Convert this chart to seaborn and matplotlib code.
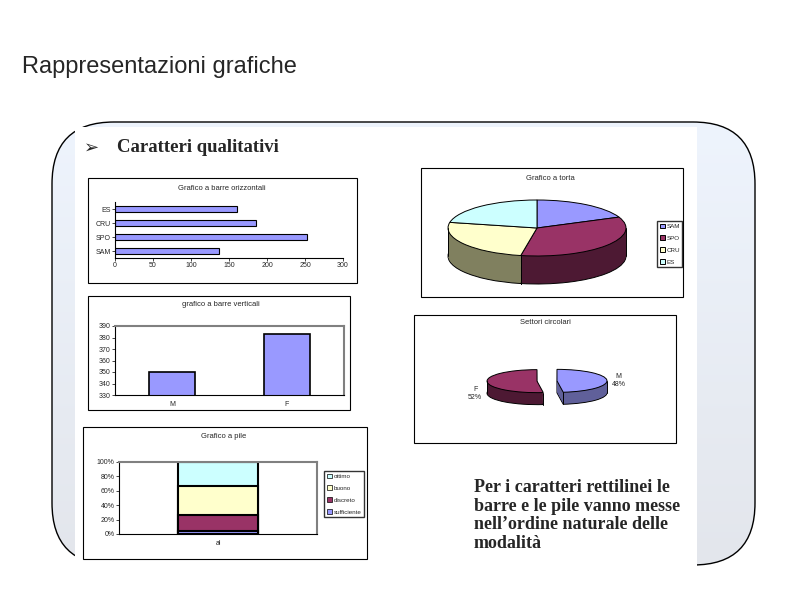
import numpy as np
import seaborn as sns
import matplotlib.pyplot as plt
from matplotlib.patches import FancyBboxPatch, Rectangle, Patch
from matplotlib.colors import LinearSegmentedColormap

sns.set_style('white')
plt.rcParams['font.family'] = ['Liberation Sans', 'DejaVu Sans']

W, H = 794, 595

# --- data ---
hbar_cats = ['SAM', 'SPO', 'CRU', 'ES']
hbar_vals = [137, 252, 186, 160]

vbar_cats = ['M', 'F']
vbar_vals = [350, 383]

pile_cat = ['al']
pile_levels = ['sufficiente', 'discreto', 'buono', 'ottimo']
pile_pct = [4, 23, 39, 34]
pile_colours = ['#9999FF', '#993366', '#FFFFCC', '#CCFFFF']

torta_cats = ['SAM', 'SPO', 'CRU', 'ES']
torta_vals = [137, 252, 186, 160]
torta_top = ['#9999FF', '#993366', '#FFFFCC', '#CCFFFF']
torta_side = ['#5C5C99', '#4D1933', '#80805F', '#668080']

settori_cats = ['M', 'F']
settori_pct = [48, 52]
settori_top = ['#9999FF', '#993366']
settori_side = ['#60609A', '#4D1933']

bar_colour = '#9999FF'


def px_axes(x0, y0, x1, y1):
    # axes placed by slide pixel box (y measured from the top)
    return fig.add_axes([x0 / W, 1 - y1 / H, (x1 - x0) / W, (y1 - y0) / H])


def excel_spines(ax, grey_box=False):
    for s in ['left', 'bottom']:
        ax.spines[s].set_color('black')
        ax.spines[s].set_linewidth(0.8)
    for s in ['top', 'right']:
        if grey_box:
            ax.spines[s].set_color('#808080')
            ax.spines[s].set_linewidth(1.5)
        else:
            ax.spines[s].set_visible(False)
    ax.tick_params(labelsize=5, length=2, width=0.6, pad=1, bottom=True, left=True)
    ax.set_xlabel('')
    ax.set_ylabel('')


def pie_3d(ax, vals, top, side, depth, explode=None, labels=None, n=24):
    # stacked copies of the pie give the extruded side
    for k, d in enumerate(np.linspace(depth, 0, n, endpoint=False)):
        ax.pie(vals, colors=side, startangle=90, counterclock=False,
               center=(0, -d), explode=explode,
               wedgeprops=dict(edgecolor='black' if k == 0 else 'none', linewidth=0.7))
    res = ax.pie(vals, colors=top, startangle=90, counterclock=False,
                 explode=explode, labels=labels, labeldistance=1.1,
                 textprops=dict(fontsize=5, multialignment='center'),
                 wedgeprops=dict(edgecolor='black', linewidth=0.7))
    wedges = res[0]
    for w in wedges:
        x0, y0 = w.center
        angles = [w.theta1, w.theta2]
        angles += [k * 180 for k in range(-3, 3) if w.theta1 < k * 180 < w.theta2]
        for a in angles:
            if np.sin(np.radians(a)) <= 1e-6:
                xa = x0 + np.cos(np.radians(a))
                ya = y0 + np.sin(np.radians(a))
                ax.plot([xa, xa], [ya, ya - depth], color='black', lw=0.7)
    ax.set_aspect('auto')
    ax.axis('off')
    return res


fig = plt.figure(figsize=(W / 100, H / 100), dpi=100)

# --- slide background ---
bg = fig.add_axes([0, 0, 1, 1])
frame = FancyBboxPatch((52, 122), 703, 443, boxstyle='round,pad=0,rounding_size=62',
                       facecolor='none', edgecolor='black', linewidth=1, zorder=2)
clip = FancyBboxPatch((52, 122), 703, 443, boxstyle='round,pad=0,rounding_size=62',
                      facecolor='none', edgecolor='none', transform=bg.transData)
grad_cmap = LinearSegmentedColormap.from_list('slide', ['#EEF4FD', '#E3E6EC'])
img = bg.imshow(np.linspace(0, 1, 256).reshape(-1, 1), cmap=grad_cmap, aspect='auto',
                extent=(52, 755, 565, 122), origin='upper', zorder=1)
bg.add_patch(clip)
img.set_clip_path(clip)
bg.add_patch(frame)
bg.add_patch(Rectangle((75, 127), 622, 442, facecolor='white', edgecolor='none', zorder=3))
bg.set_xlim(0, W)
bg.set_ylim(H, 0)
bg.axis('off')

bg.text(22, 67, 'Rappresentazioni grafiche', fontsize=17, va='center', zorder=5)
bg.text(84, 148, '➢', fontsize=13, family='DejaVu Sans', va='center', zorder=5)
bg.text(117, 147, 'Caratteri qualitativi', fontsize=13.5, family='Liberation Serif',
        weight='bold', va='center', zorder=5)
bg.text(474, 479, 'Per i caratteri rettilinei le\nbarre e le pile vanno messe\n'
        'nell’ordine naturale delle\nmodalità',
        fontsize=13, family='Liberation Serif', weight='bold', va='top',
        linespacing=1.12, zorder=5)

boxes = [(88, 178, 357, 283), (88, 296, 350, 410), (83, 427, 367, 559),
         (421, 168, 683, 297), (414, 315, 676, 443)]
for x0, y0, x1, y1 in boxes:
    bg.add_patch(Rectangle((x0, y0), x1 - x0, y1 - y0, facecolor='white',
                           edgecolor='black', linewidth=0.8, zorder=4))

titles = [(222, 188, 'Grafico a barre orizzontali'),
          (221, 305, 'grafico a barre verticali'),
          (224, 437, 'Grafico a pile'),
          (550, 178, 'Grafico a torta'),
          (545, 322, 'Settori circolari')]
for x, y, t in titles:
    bg.text(x, y, t, fontsize=5.5, ha='center', va='center', zorder=5)

# --- horizontal bars ---
ax1 = px_axes(115, 202, 343, 258)
sns.barplot(x=hbar_vals, y=hbar_cats, order=hbar_cats[::-1], orient='h',
            color=bar_colour, saturation=1, width=0.45,
            edgecolor='black', linewidth=0.8, ax=ax1)
ax1.set_xlim(0, 300)
ax1.set_xticks(range(0, 301, 50))
excel_spines(ax1)

# --- vertical bars ---
ax2 = px_axes(115, 326, 344, 395)
sns.barplot(x=vbar_cats, y=vbar_vals, color=bar_colour, saturation=1, width=0.4,
            edgecolor='black', linewidth=1.2, ax=ax2)
ax2.set_ylim(330, 390)
ax2.set_yticks(range(330, 391, 10))
excel_spines(ax2, grey_box=True)
ax2.tick_params(axis='x', length=0, pad=4)

# --- stacked (pile) ---
ax3 = px_axes(119, 462, 317, 534)
cum = np.cumsum(pile_pct)
for lev, col, h in reversed(list(zip(pile_levels, pile_colours, cum))):
    sns.barplot(x=pile_cat, y=[h], color=col, saturation=1, width=0.4,
                edgecolor='black', linewidth=1.5, ax=ax3)
ax3.set_ylim(0, 100)
ax3.set_yticks(range(0, 101, 20))
ax3.set_yticklabels([f'{v}%' for v in range(0, 101, 20)])
excel_spines(ax3, grey_box=True)
ax3.tick_params(axis='x', length=0, pad=4)
handles = [Patch(facecolor=c, edgecolor='black', linewidth=0.5, label=l)
           for l, c in reversed(list(zip(pile_levels, pile_colours)))]
fig.legend(handles=handles, loc='upper left', bbox_to_anchor=(324 / W, 1 - 471 / H),
           fontsize=4.5, frameon=True, fancybox=False, edgecolor='black',
           handlelength=0.8, handleheight=0.8, handletextpad=0.3, borderpad=0.4,
           labelspacing=1.0, borderaxespad=0)

# --- 3D pie ---
cx, cy, rx, ry, dep = 537, 228, 89, 28, 28
ax4 = px_axes(cx - 1.25 * rx, 190, cx + 1.25 * rx, 300)
res4 = pie_3d(ax4, torta_vals, torta_top, torta_side, dep / ry)
ax4.set_xlim(-1.25, 1.25)
ax4.set_ylim(-(300 - cy) / ry, (cy - 190) / ry)
ax4.legend(res4[0], torta_cats, loc='upper left', bbox_to_anchor=(657 / W, 1 - 221 / H),
           bbox_transform=fig.transFigure, fontsize=4.5, frameon=True, fancybox=False,
           edgecolor='black', handlelength=0.8, handleheight=0.8, handletextpad=0.3,
           borderpad=0.4, labelspacing=1.0, borderaxespad=0)

# --- exploded sectors ---
cx, cy, rx, ry, dep = 547, 381, 50, 11.5, 12
ax5 = px_axes(cx - 1.7 * rx, 350, cx + 1.7 * rx, 412)
res5 = pie_3d(ax5, settori_pct, settori_top, settori_side, dep / ry,
              explode=[0.2, 0.2],
              labels=[f'{c}\n{p}%' for c, p in zip(settori_cats, settori_pct)], n=14)
lx, ly = res5[1][1].get_position()
res5[1][1].set_position((lx, ly - 1.0))
ax5.set_xlim(-1.7, 1.7)
ax5.set_ylim(-(412 - cy) / ry, (cy - 350) / ry)

fig.savefig('out.png', dpi=100)
